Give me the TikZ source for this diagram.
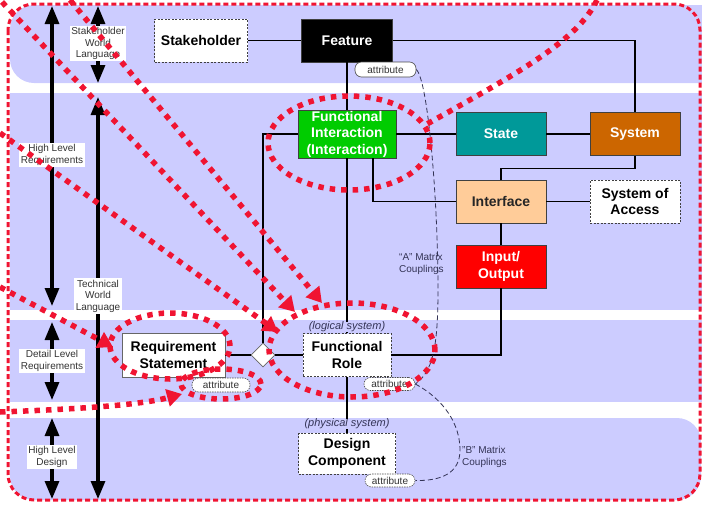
\documentclass[tikz,border=0pt]{standalone}
\usepackage{fontspec}
\setmainfont{Liberation Sans}
\usetikzlibrary{arrows.meta,shapes.geometric}
\definecolor{band}{RGB}{204,204,255}
\definecolor{anno}{RGB}{240,20,50}
\definecolor{fgreen}{RGB}{0,204,0}
\definecolor{fteal}{RGB}{0,153,153}
\definecolor{forange}{RGB}{204,102,0}
\definecolor{fpeach}{RGB}{255,204,153}
\definecolor{fred}{RGB}{255,0,0}
\definecolor{slate}{RGB}{51,51,85}
\tikzset{
  box/.style={draw=black!75, line width=0.8pt, inner sep=0pt, align=center,
    font=\fontsize{14}{16.5}\selectfont\bfseries, minimum width=90pt, minimum height=43pt},
  dbox/.style={box, fill=white, dash pattern=on 2pt off 1.5pt},
  pill/.style={draw=black!70, line width=0.6pt, fill=white, rounded corners=6.5pt, inner sep=0pt,
    font=\fontsize{10}{11}\selectfont, text=black!80},
  side/.style={fill=white, inner sep=1.5pt, align=center, font=\fontsize{10}{11.5}\selectfont, text=black!80},
  bigarrow/.style={line width=3.2pt, {Triangle[width=14pt,length=18pt]}-{Triangle[width=14pt,length=18pt]}},
  link/.style={line width=1.1pt, black},
  dotline/.style={anno, line width=5.5pt, dash pattern=on 5.5pt off 6pt},
  dotarrow/.style={dotline, -{Triangle[width=17pt,length=15pt]}},
  coupling/.style={slate, line width=0.8pt, dash pattern=on 5pt off 3pt},
  couplab/.style={align=left, anchor=west, inner sep=0pt, font=\fontsize{10}{12}\selectfont, text=slate},
  syslab/.style={font=\fontsize{11}{13}\selectfont\itshape, text=slate, inner sep=0pt}
}
\begin{document}
\begin{tikzpicture}[x=1pt,y=-1pt]
\useasboundingbox (0,0) rectangle (702,504);
% bands
\begin{scope}
\clip (0,0) rectangle (702,504);
\fill[band, rounded corners=24pt] (10,5) rectangle (760,83);
\fill[band] (10,93) rectangle (702,310);
\fill[band] (10,320) rectangle (702,402);
\fill[band, rounded corners=24pt] (10,418) rectangle (701,500);
\fill[band] (10,418) rectangle (50,460);
\end{scope}
\draw[anno, line width=3pt, dash pattern=on 5pt off 3pt, rounded corners=26pt] (8,4) rectangle (700,500);
% left scale arrows
\coordinate (a1t) at (52,6);   \coordinate (a1b) at (52,306);
\coordinate (a2t) at (52,322); \coordinate (a2b) at (52,400);
\coordinate (a3t) at (52,418); \coordinate (a3b) at (52,499);
\coordinate (b1t) at (98,6);   \coordinate (b1b) at (98,83);
\coordinate (b2t) at (98,97);  \coordinate (b2b) at (98,499);
\draw[bigarrow] (a1t) -- (a1b);
\draw[bigarrow] (a2t) -- (a2b);
\draw[bigarrow] (a3t) -- (a3b);
\draw[bigarrow] (b1t) -- (b1b);
\draw[bigarrow] (b2t) -- (b2b);
\node[side] (lbl1) at (98,43.5) {Stakeholder\\World\\Language};
\node[side] (lbl2) at (52,155) {High Level\\Requirements};
\node[side] (lbl3) at (98,296) {Technical\\World\\Language};
\node[side] (lbl4) at (52,361) {Detail Level\\Requirements};
\node[side] (lbl5) at (52,457) {High Level\\Design};
% nodes
\node[dbox, minimum width=93pt] (stk) at (201,40.5) {Stakeholder};
\node[box, fill=black, text=white, minimum width=91pt] (feat) at (347,40.5) {Feature};
\node[pill, minimum width=61pt, minimum height=15pt] (fattr) at (385.5,69.5) {attribute};
\node[box, fill=fgreen, text=white, minimum width=98pt, minimum height=48pt] (fi) at (347,134) {Functional\\Interaction\\(Interaction)};
\node[box, fill=fteal, text=white] (state) at (501,134) {State};
\node[box, fill=forange, text=white] (sys) at (635,134) {System};
\node[box, fill=fpeach, text=black!85] (intf) at (501,201.5) {Interface};
\node[dbox] (soa) at (635,201.5) {System of\\Access};
\node[box, fill=fred, text=white] (io) at (501,266.5) {Input/\\Output};
\node[box, fill=white, draw=black!60, minimum width=103pt, minimum height=44pt] (rs) at (173.5,355) {Requirement\\Statement};
\node[diamond, draw=black!60, line width=0.8pt, fill=white, minimum width=24pt, minimum height=24pt, inner sep=0pt] (dia) at (263,355) {};
\node[dbox, minimum width=88pt] (fr) at (347,355) {Functional\\Role};
\node[syslab] (logl) at (347,327) {(logical system)};
\node[pill, dash pattern=on 1.5pt off 1pt, minimum width=51pt, minimum height=13pt] (frattr) at (389.5,384) {attribute};
\node[pill, dash pattern=on 1.5pt off 1pt, minimum width=58pt, minimum height=14pt] (rsattr) at (221,385) {attribute};
\node[dbox, minimum width=97pt, minimum height=41pt] (dc) at (347,453.5) {Design\\Component};
\node[syslab] (phys) at (347,424) {(physical system)};
\node[pill, dash pattern=on 1.5pt off 1pt, minimum width=50pt, minimum height=13pt] (dcattr) at (390,480.5) {attribute};
% connectors
\draw[link] (stk) -- (feat);
\draw[link] (feat.east) -| (sys.north);
\draw[link] (feat) -- (fi);
\draw[link] (fi.south) -- (logl.north);
\draw[link] (logl.south) -- (fr.north);
\draw[link] (fi.west) -| (dia.north);
\draw[link] (fi) -- (state);
\draw[link] (state) -- (sys);
\draw[link] ([xshift=26pt]fi.south) |- (intf.west);
\draw[link] (sys.south) -- ++(0,13) -| (intf.north);
\draw[link] (intf) -- (soa);
\draw[link] (intf) -- (io);
\draw[link] (io.south) |- (fr.east);
\draw[link] (rs) -- (dia);
\draw[link] (dia) -- (fr);
\draw[link] (fr.south) -- (phys.north);
\draw[link] (phys.south) -- (dc.north);
% couplings
\draw[coupling] (fattr.east) .. controls (428,80) and (438,200) .. (438,290) .. controls (438,350) and (432,372) .. (frattr.east);
\draw[coupling] (frattr.east) .. controls (445,400) and (460,425) .. (460,450) .. controls (460,474) and (440,481) .. (dcattr.east);
\node[couplab] (alab) at (399,264) {“A” Matrix\\Couplings};
\node[couplab] (blab) at (462,457) {"B" Matrix\\Couplings};
% red dotted annotations
\draw[dotline] (349,143) ellipse [x radius=81pt, y radius=47pt];
\draw[dotline] (352,350) ellipse [x radius=83pt, y radius=47pt];
\draw[dotline] (170,346) ellipse [x radius=60pt, y radius=33pt];
\draw[dotline] (221,384) ellipse [x radius=40pt, y radius=15pt];
\coordinate (pa0) at (2,2);    \coordinate (pa1) at (295,312);
\coordinate (pb0) at (70,0);   \coordinate (pb1) at (322,303);
\coordinate (pc0) at (0,133);  \coordinate (pc1) at (278,332);
\coordinate (pd0) at (0,287);  \coordinate (pd1) at (113,347);
\coordinate (pe0) at (0,412);  \coordinate (pe1) at (182,394);
\coordinate (pf0) at (597,0);  \coordinate (pf1) at (427,124);
\draw[dotarrow] (pa0) -- (pa1);
\draw[dotarrow] (pb0) -- (pb1);
\draw[dotarrow] (pc0) -- (pc1);
\draw[dotarrow] (pd0) -- (pd1);
\draw[dotarrow] (pe0) .. controls (80,409) and (140,405) .. (pe1);
\draw[dotline] (pf0) .. controls (578,40) and (520,72) .. (pf1);
\end{tikzpicture}
\end{document}
